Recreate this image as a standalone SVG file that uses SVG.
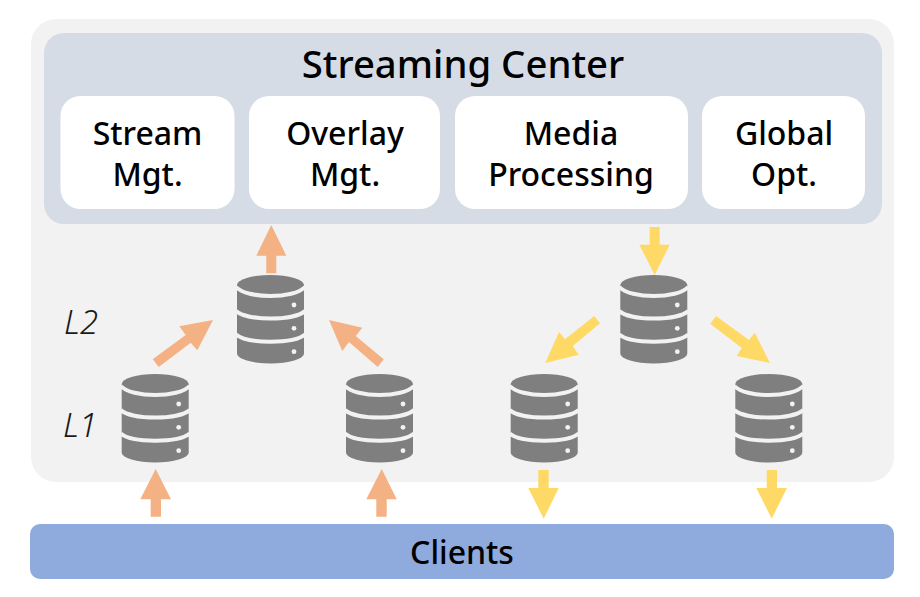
<svg xmlns="http://www.w3.org/2000/svg" xmlns:xlink="http://www.w3.org/1999/xlink" width="920" height="597" viewBox="0 0 920 597">
<style>
text{font-family:"Noto Sans","Open Sans","Liberation Sans",sans-serif;fill:#000;text-anchor:middle}
.box{fill:#fff}
.lbl{font-size:32px;font-weight:500}
.title{font-size:38.300px;font-weight:500}
.lvl{font-size:33px;font-style:italic;font-weight:300;fill:#1a1a1a}
.up{fill:#f4b183}
.down{fill:#ffd966}
.band{fill:none;stroke:#f2f2f2;stroke-width:4}
.dot{fill:#f2f2f2}
</style>
<defs>
<g id="db">
<path d="M0 10A33.500 10 0 0 1 67 10V78.500A33.500 10 0 0 1 0 78.500Z" fill="#7f7f7f"/>
<path class="band" d="M-1 12C10 24 57 24 68 12M-1 36C10 46 57 46 68 36M-1 59.500C10 69 57 69 68 59.500"/>
<circle class="dot" cx="57" cy="30" r="2.400"/><circle class="dot" cx="57" cy="53.300" r="2.400"/><circle class="dot" cx="57" cy="76.700" r="2.400"/>
</g>
</defs>
<rect width="920" height="597" fill="#fff"/>
<rect id="domain" x="31" y="19" width="863" height="463" rx="25" fill="#f2f2f2"/>
<g id="streaming-center">
<rect x="44" y="33" width="838" height="191" rx="20" fill="#d6dce5"/>
<text class="title" x="463" y="78">Streaming Center</text>
</g>
<g id="stream-mgt"><rect class="box" x="60.500" y="96" width="174" height="113" rx="20"/><text class="lbl" x="147.500" y="145">Stream</text><text class="lbl" x="147.500" y="186">Mgt.</text></g>
<g id="overlay-mgt"><rect class="box" x="249" y="96" width="191" height="113" rx="20"/><text class="lbl" x="345" y="145">Overlay</text><text class="lbl" x="345" y="186">Mgt.</text></g>
<g id="media-processing"><rect class="box" x="455" y="96" width="233" height="113" rx="20"/><text class="lbl" x="571" y="145">Media</text><text class="lbl" x="571" y="186">Processing</text></g>
<g id="global-opt"><rect class="box" x="702" y="96" width="163" height="113" rx="20"/><text class="lbl" x="784" y="145">Global</text><text class="lbl" x="784" y="186">Opt.</text></g>
<g id="label-l2"><text class="lvl" x="81" y="334">L2</text></g>
<g id="label-l1"><text class="lvl" x="80" y="437">L1</text></g>
<g id="server-up-l2"><use href="#db" x="237" y="275"/></g>
<g id="server-up-l1a"><use href="#db" x="121.700" y="374"/></g>
<g id="server-up-l1b"><use href="#db" x="346" y="374"/></g>
<g id="server-down-l2"><use href="#db" x="620.300" y="275"/></g>
<g id="server-down-l1a"><use href="#db" x="510.700" y="374"/></g>
<g id="server-down-l1b"><use href="#db" x="735.300" y="374"/></g>
<g id="clients"><rect x="30" y="524" width="864" height="55" rx="10" fill="#8faadc"/><text class="lbl" x="462" y="564">Clients</text></g>
<g id="connectors">
<polygon class="up" points="271.300,225 286.300,255.700 276.300,255.700 276.300,273.300 266.300,273.300 266.300,255.700 256.300,255.700"/>
<polygon class="up" points="155.700,469 171,499.300 161,499.300 161,516.700 150.700,516.700 150.700,499.300 140.300,499.300"/>
<polygon class="up" points="381.700,469 396.700,499.300 386.700,499.300 386.700,516.700 376.300,516.700 376.300,499.300 366.300,499.300"/>
<polygon class="up" points="152.700,359.300 158.700,367 190.700,342.700 197.300,350.300 213,320 179.300,326.300 185.700,335"/>
<polygon class="up" points="383.700,359.300 377.700,367 349,342 342.300,351 329,320 362.300,327.700 355.700,336"/>
<polygon class="down" points="649.700,227 659.700,227 659.700,244.700 669.700,244.700 654.700,275 639.300,244.700 649.700,244.700"/>
<polygon class="down" points="594.300,316 600,323.300 572.700,346 578.700,354.700 545.300,363 559,332 565,339.300"/>
<polygon class="down" points="716,316 710.300,323.700 741.700,348 736.700,356 770,363 754.700,332.700 749,340"/>
<polygon class="down" points="538.300,470 548.700,470 548.700,488 558.700,488 543.700,518.700 528.300,488 538.300,488"/>
<polygon class="down" points="766.700,470 777,470 777,488 787,488 771.700,518.700 756.300,488 766.700,488"/>
</g>
</svg>
